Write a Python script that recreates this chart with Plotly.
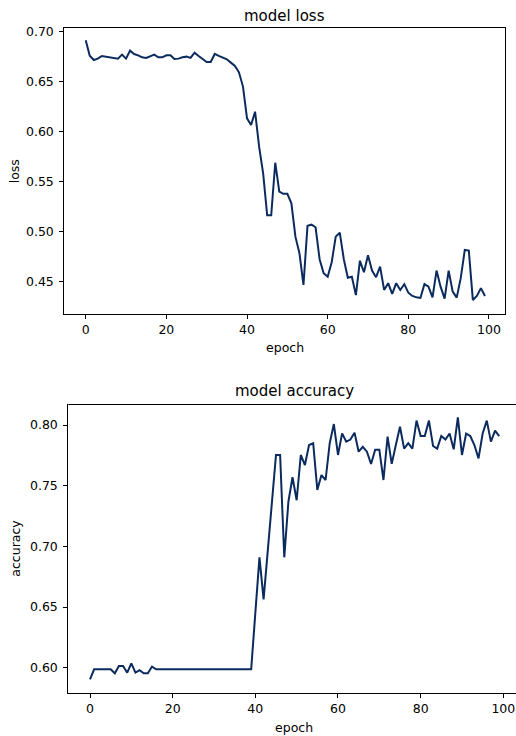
import plotly.graph_objects as go

# ---------------- data ----------------
epochs = list(range(100))

loss = [
    0.6915, 0.676, 0.6716, 0.673, 0.6757, 0.675, 0.6743, 0.6737, 0.673, 0.677,
    0.673, 0.681, 0.6776, 0.6763, 0.6743, 0.6737, 0.6757, 0.677, 0.6743, 0.6743,
    0.6763, 0.6763, 0.6726, 0.673, 0.6743, 0.675, 0.6737, 0.679, 0.6757, 0.673,
    0.6696, 0.6696, 0.6777, 0.6757, 0.6743, 0.6723, 0.669, 0.6656, 0.6593, 0.645,
    0.6132, 0.6065, 0.6198, 0.5848, 0.5581, 0.516, 0.516, 0.5687, 0.5397, 0.5375,
    0.5375, 0.528, 0.4946, 0.478, 0.4462, 0.5056, 0.5066, 0.504, 0.472, 0.458,
    0.4545, 0.469, 0.4946, 0.4986, 0.472, 0.4535, 0.4545, 0.436, 0.4705, 0.4589,
    0.476, 0.4606, 0.454, 0.4646, 0.4412, 0.448, 0.4372, 0.448, 0.4412, 0.447,
    0.4385, 0.4352, 0.4338, 0.4332, 0.447, 0.4445, 0.4338, 0.4606, 0.4445, 0.4325,
    0.4606, 0.4395, 0.4335, 0.453, 0.4813, 0.4806, 0.4312, 0.4352, 0.443, 0.4352,
]

accuracy = [
    0.5905, 0.5988, 0.5988, 0.5988, 0.5988, 0.5988, 0.5955, 0.6015, 0.6015, 0.596,
    0.6037, 0.596, 0.598, 0.5955, 0.5955, 0.601, 0.5988, 0.5988, 0.5988, 0.5988,
    0.5988, 0.5988, 0.5988, 0.5988, 0.5988, 0.5988, 0.5988, 0.5988, 0.5988, 0.5988,
    0.5988, 0.5988, 0.5988, 0.5988, 0.5988, 0.5988, 0.5988, 0.5988, 0.5988, 0.5988,
    0.645, 0.691, 0.6564, 0.695, 0.733, 0.7753, 0.7753, 0.691, 0.7368, 0.757,
    0.738, 0.7753, 0.767, 0.7835, 0.785, 0.7465, 0.7588, 0.7547, 0.785, 0.8008,
    0.7753, 0.7931, 0.7863, 0.788, 0.7937, 0.778, 0.782, 0.778, 0.7679, 0.7797,
    0.7797, 0.7547, 0.7904, 0.768, 0.7835, 0.7986, 0.7805, 0.785, 0.7805, 0.8036,
    0.7909, 0.7909, 0.8036, 0.7827, 0.7805, 0.7909, 0.788, 0.793, 0.78, 0.8063,
    0.7753, 0.793, 0.7909, 0.7835, 0.7725, 0.793, 0.8036, 0.7863, 0.7953, 0.7909,
]

x_ticks = [0, 20, 40, 60, 80, 100]
loss_ticks = [0.45, 0.50, 0.55, 0.60, 0.65, 0.70]
acc_ticks = [0.60, 0.65, 0.70, 0.75, 0.80]

# ---------------- layout helpers ----------------
W, H = 516, 736
FONT = "DejaVu Sans"
LINE_COLOR = "#0b2a5e"


def px(x):
    return x / W


def py(y):
    return 1 - y / H


fig = go.Figure()
fig.add_trace(go.Scatter(x=epochs, y=loss, mode="lines",
                         line=dict(color=LINE_COLOR, width=2),
                         xaxis="x", yaxis="y", showlegend=False))
fig.add_trace(go.Scatter(x=epochs, y=accuracy, mode="lines",
                         line=dict(color=LINE_COLOR, width=2),
                         xaxis="x2", yaxis="y2", showlegend=False))

common = dict(showline=True, linecolor="black", linewidth=1, ticks="outside",
              ticklen=4, tickwidth=1, tickcolor="black", showgrid=False,
              zeroline=False, automargin=False, ticklabeloverflow="allow",
              showspikes=False,
              tickfont=dict(family=FONT, size=12.5, color="black"))

fig.update_layout(
    width=W, height=H,
    margin=dict(l=0, r=0, t=0, b=0),
    paper_bgcolor="white", plot_bgcolor="white",
    template="none",
    hovermode=False,
    font=dict(family=FONT, color="black"),
    xaxis=dict(domain=[px(64.3), px(504.7)], range=[-5.31, 103.9],
               tickvals=x_ticks, mirror=True, anchor="y", **common),
    yaxis=dict(domain=[py(314.3), py(28.3)], range=[0.4168, 0.7034],
               tickvals=loss_ticks, tickformat=".2f", mirror=True,
               anchor="x", ticklabelstandoff=3, **common),
    xaxis2=dict(domain=[px(68.3), 1.0], range=[-5.25, 103.07],
                tickvals=x_ticks, mirror=False, anchor="y2", **common),
    yaxis2=dict(domain=[py(693.3), py(404)], range=[0.579, 0.8173],
                tickvals=acc_ticks, tickformat=".2f", mirror=False,
                anchor="x2", ticklabelstandoff=3, **common),
)

# top border of the lower panel (its right border lies outside the picture)
fig.add_shape(type="line", xref="paper", yref="paper",
              x0=px(68.3), x1=1.0, y0=py(404.5), y1=py(404.5),
              line=dict(color="black", width=1))

ann_font = dict(family=FONT, size=12.5, color="black")
title_font = dict(family=FONT, size=15, color="black")
annotations = [
    dict(text="model loss", x=px(284.5), y=py(16.5), font=title_font),
    dict(text="epoch", x=px(284.5), y=py(347), font=ann_font),
    dict(text="loss", x=px(14), y=py(171.3), font=ann_font, textangle=-90),
    dict(text="model accuracy", x=px(294), y=py(391), font=title_font),
    dict(text="epoch", x=px(294), y=py(727), font=ann_font),
    dict(text="accuracy", x=px(16), y=py(548.7), font=ann_font, textangle=-90),
]
for a in annotations:
    a.update(xref="paper", yref="paper", xanchor="center", yanchor="middle",
             showarrow=False)
fig.update_layout(annotations=annotations)

fig.write_html(
    "out.html",
    config={"displayModeBar": False, "staticPlot": True},
    post_script="document.body.style.margin='0';document.body.style.padding='0';"
                "document.body.style.overflow='hidden';",
)
